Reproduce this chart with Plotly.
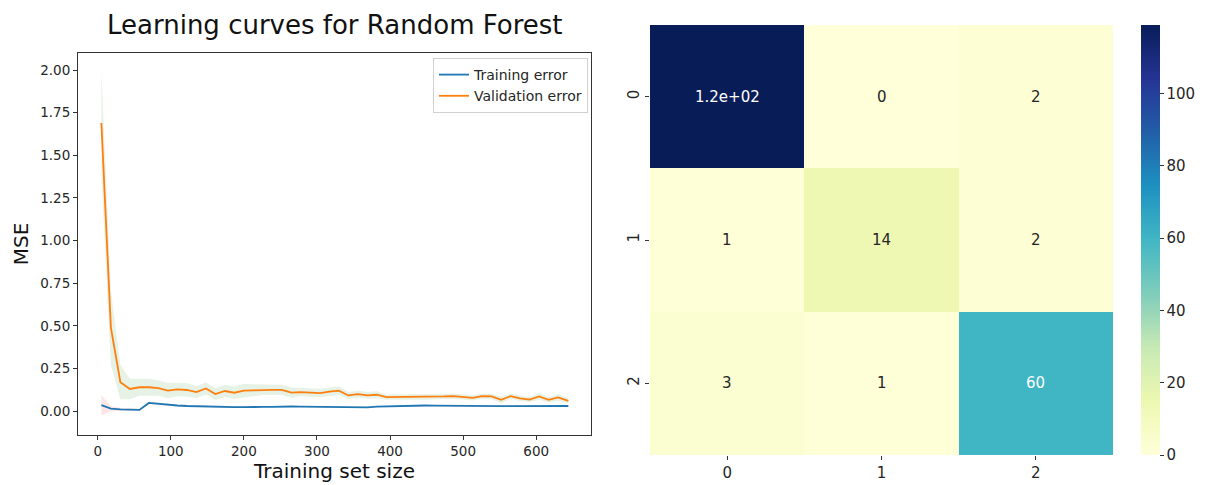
import plotly.graph_objects as go

# ---------------- data ----------------
train_sizes = [5, 18, 31, 44, 57, 70, 83, 96, 109, 122, 135, 148, 161, 174, 187, 200, 213,
               226, 239, 252, 265, 278, 291, 304, 317, 330, 343, 356, 369, 382, 395, 408,
               421, 434, 448, 461, 474, 487, 500, 513, 526, 539, 552, 565, 578, 591, 604,
               617, 630, 644]
train_err = [0.035, 0.015, 0.010, 0.008, 0.007, 0.048, 0.042, 0.037, 0.033, 0.030, 0.028,
             0.028, 0.027, 0.025, 0.024, 0.023, 0.022, 0.025, 0.025, 0.028, 0.027, 0.026,
             0.025, 0.024, 0.024, 0.023, 0.023, 0.022, 0.022, 0.026, 0.028, 0.030, 0.031,
             0.033, 0.033, 0.032, 0.031, 0.031, 0.030, 0.030, 0.029, 0.029, 0.029, 0.029,
             0.029, 0.030, 0.030, 0.030, 0.030, 0.030]
train_std = [0.060, 0.015, 0.008, 0.006, 0.005, 0.008, 0.006, 0.005, 0.005, 0.004, 0.004,
             0.004, 0.004, 0.003, 0.003, 0.003, 0.003, 0.003, 0.003, 0.003, 0.003, 0.003,
             0.003, 0.003, 0.003, 0.003, 0.003, 0.003, 0.003, 0.003, 0.003, 0.003, 0.003,
             0.003, 0.003, 0.003, 0.003, 0.003, 0.003, 0.003, 0.003, 0.003, 0.003, 0.003,
             0.003, 0.003, 0.003, 0.003, 0.003, 0.003]
val_err = [1.69, 0.49, 0.17, 0.13, 0.14, 0.14, 0.135, 0.12, 0.127, 0.124, 0.112, 0.133,
           0.10, 0.118, 0.108, 0.12, 0.122, 0.125, 0.125, 0.125, 0.108, 0.112, 0.108, 0.106,
           0.114, 0.12, 0.092, 0.10, 0.092, 0.096, 0.082, 0.082, 0.082, 0.082, 0.082, 0.082,
           0.086, 0.088, 0.084, 0.078, 0.088, 0.086, 0.066, 0.088, 0.075, 0.068, 0.086,
           0.066, 0.08, 0.06]
val_std = [0.31, 0.22, 0.10, 0.06, 0.05, 0.05, 0.045, 0.045, 0.04, 0.04, 0.035, 0.035,
           0.035, 0.035, 0.035, 0.04, 0.035, 0.03, 0.03, 0.03, 0.03, 0.025, 0.025, 0.025,
           0.025, 0.025, 0.02, 0.02, 0.02, 0.02, 0.015, 0.015, 0.015, 0.015, 0.015, 0.015,
           0.015, 0.015, 0.015, 0.015, 0.015, 0.015, 0.02, 0.015, 0.015, 0.015, 0.02, 0.015,
           0.02, 0.015]

cm_labels = [0, 1, 2]
cm_values = [[119, 0, 2],
             [1, 14, 2],
             [3, 1, 60]]
cm_text = [["1.2e+02", "0", "2"],
           ["1", "14", "2"],
           ["3", "1", "60"]]
cbar_ticks = [0, 20, 40, 60, 80, 100]

FONT = "DejaVu Sans"
W, H = 1211, 485

ylgnbu = ["rgb(255,255,217)", "rgb(237,248,177)", "rgb(199,233,180)", "rgb(127,205,187)",
          "rgb(65,182,196)", "rgb(29,145,192)", "rgb(34,94,168)", "rgb(37,52,148)",
          "rgb(8,29,88)"]
colorscale = [[i / 8, c] for i, c in enumerate(ylgnbu)]

fig = go.Figure()


def band(x, m, s, color):
    up = [a + b for a, b in zip(m, s)]
    lo = [a - b for a, b in zip(m, s)]
    return go.Scatter(x=list(x) + list(x)[::-1], y=up + lo[::-1], fill="toself",
                      fillcolor=color, line=dict(width=0), mode="lines",
                      hoverinfo="skip", showlegend=False, xaxis="x", yaxis="y")


fig.add_trace(band(train_sizes, train_err, train_std, "rgba(255,0,0,0.1)"))
fig.add_trace(band(train_sizes, val_err, val_std, "rgba(0,128,0,0.1)"))
fig.add_trace(go.Scatter(x=train_sizes, y=train_err, mode="lines", name="Training error",
                         line=dict(color="#1f77b4", width=1.8), xaxis="x", yaxis="y"))
fig.add_trace(go.Scatter(x=train_sizes, y=val_err, mode="lines", name="Validation error",
                         line=dict(color="#ff7f0e", width=1.8), xaxis="x", yaxis="y"))

zmax = max(max(r) for r in cm_values)
fig.add_trace(go.Heatmap(z=cm_values, x=cm_labels, y=cm_labels, colorscale=colorscale,
                         zmin=0, zmax=zmax, xaxis="x2", yaxis="y2", showscale=True,
                         colorbar=dict(x=1141 / W, xanchor="left", thickness=19,
                                       xpad=0, ypad=0,
                                       len=430 / H, lenmode="fraction", y=1 - 455 / H,
                                       yanchor="bottom", outlinewidth=0,
                                       tickvals=cbar_ticks, ticks="outside", ticklen=4,
                                       tickcolor="#333",
                                       tickfont=dict(size=15, color="#262626", family=FONT))))

annotations = []
for i, row in enumerate(cm_values):
    for j, v in enumerate(row):
        annotations.append(dict(x=cm_labels[j], y=cm_labels[i], xref="x2", yref="y2",
                                text=cm_text[i][j], showarrow=False,
                                font=dict(size=15, family=FONT,
                                          color="white" if v > 50 else "#262626")))

annotations.append(dict(text="Learning curves for Random Forest", x=335 / W, y=1 - 25 / H,
                        xref="paper", yref="paper", showarrow=False, xanchor="center",
                        yanchor="middle", font=dict(size=26, family=FONT, color="#111")))

axis_common = dict(showline=True, linecolor="#333", linewidth=1, mirror=True, ticks="outside",
                   ticklen=4, tickcolor="#333", showgrid=False, zeroline=False,
                   tickfont=dict(size=13.5, family=FONT, color="#262626"))

fig.update_layout(
    width=W, height=H, margin=dict(l=0, r=0, t=0, b=0),
    paper_bgcolor="white", plot_bgcolor="white",
    font=dict(family=FONT, color="#262626"),
    annotations=annotations,
    xaxis=dict(domain=[78 / W, 591 / W], range=[-27, 675],
               tickvals=[0, 100, 200, 300, 400, 500, 600],
               title=dict(text="Training set size", font=dict(size=20, family=FONT, color="#111"),
                          standoff=2),
               anchor="y", **axis_common),
    yaxis=dict(domain=[1 - 435 / H, 1 - 53 / H], range=[-0.14, 2.10],
               tickvals=[0, 0.25, 0.5, 0.75, 1.0, 1.25, 1.5, 1.75, 2.0], tickformat=".2f",
               title=dict(text="MSE", font=dict(size=20, family=FONT, color="#111"), standoff=6),
               anchor="x", **axis_common),
    xaxis2=dict(domain=[650 / W, 1113 / W], range=[-0.5, 2.5], tickvals=cm_labels, anchor="y2",
                ticks="outside", ticklen=4, tickcolor="#333", showgrid=False, zeroline=False,
                showline=False, tickfont=dict(size=15, family=FONT, color="#262626")),
    yaxis2=dict(domain=[1 - 455 / H, 1 - 25 / H], range=[2.5, -0.5], tickvals=cm_labels,
                anchor="x2", ticks="outside", ticklen=4, tickcolor="#333", showgrid=False,
                zeroline=False, showline=False, tickangle=-90,
                tickfont=dict(size=15, family=FONT, color="#262626")),
    legend=dict(x=588 / W, xanchor="right", y=1 - 58 / H, yanchor="top",
                bgcolor="rgba(255,255,255,0.8)", bordercolor="#d0d0d0", borderwidth=1,
                font=dict(size=14, family=FONT, color="#262626"), itemwidth=30,
                tracegroupgap=0),
)

fig.write_html("out.html", config={"displayModeBar": False},
               post_script="document.body.style.margin='0';")
